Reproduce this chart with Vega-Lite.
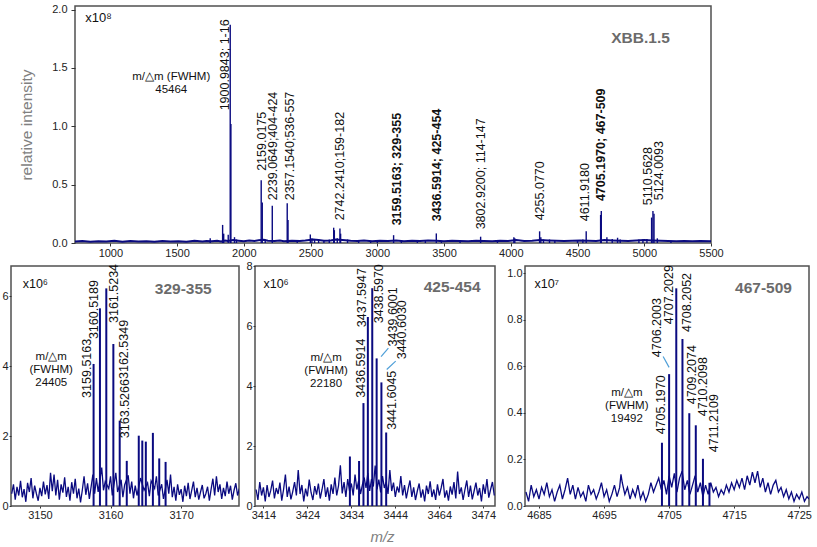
{
"$schema":"https://vega.github.io/schema/vega-lite/v6.json",
"padding":{"left":1,"top":2,"right":0,"bottom":0},
"background":"white",
"config":{
 "view":{"stroke":"#505050","strokeWidth":1.5},
 "font":"Liberation Sans",
 "axis":{"domain":false,"grid":false,"labelOverlap":false,"labelSeparation":0,"labelBound":false,"labelFlush":false,"labelFont":"Liberation Sans","labelFontSize":11,"labelColor":"#222222","tickColor":"#333333","tickSize":2,"labelPadding":1,"titleFont":"Liberation Sans","titleFontWeight":"normal","titleColor":"#808080"},
 "text":{"font":"Liberation Sans","color":"#111111"}
},
"datasets":{
 "top_base":[{"mz":735,"i":0.012},{"mz":790,"i":0.018},{"mz":850,"i":0.01},{"mz":910,"i":0.016},{"mz":970,"i":0.012},{"mz":1030,"i":0.02},{"mz":1090,"i":0.011},{"mz":1150,"i":0.017},{"mz":1210,"i":0.012},{"mz":1270,"i":0.015},{"mz":1330,"i":0.01},{"mz":1390,"i":0.018},{"mz":1450,"i":0.012},{"mz":1510,"i":0.016},{"mz":1570,"i":0.011},{"mz":1630,"i":0.02},{"mz":1690,"i":0.013},{"mz":1720,"i":0.018},{"mz":1760,"i":0.015},{"mz":1800,"i":0.02},{"mz":1830,"i":0.014},{"mz":1860,"i":0.022},{"mz":1880,"i":0.018},{"mz":1920,"i":0.025},{"mz":1960,"i":0.02},{"mz":2000,"i":0.016},{"mz":2040,"i":0.022},{"mz":2080,"i":0.018},{"mz":2110,"i":0.024},{"mz":2150,"i":0.028},{"mz":2180,"i":0.02},{"mz":2230,"i":0.018},{"mz":2270,"i":0.022},{"mz":2300,"i":0.016},{"mz":2360,"i":0.02},{"mz":2420,"i":0.018},{"mz":2460,"i":0.022},{"mz":2520,"i":0.03},{"mz":2560,"i":0.025},{"mz":2600,"i":0.02},{"mz":2650,"i":0.022},{"mz":2690,"i":0.03},{"mz":2740,"i":0.025},{"mz":2800,"i":0.02},{"mz":2850,"i":0.018},{"mz":2900,"i":0.022},{"mz":2960,"i":0.016},{"mz":3020,"i":0.02},{"mz":3080,"i":0.018},{"mz":3140,"i":0.022},{"mz":3200,"i":0.016},{"mz":3260,"i":0.02},{"mz":3320,"i":0.018},{"mz":3380,"i":0.022},{"mz":3440,"i":0.02},{"mz":3500,"i":0.016},{"mz":3560,"i":0.02},{"mz":3620,"i":0.018},{"mz":3680,"i":0.016},{"mz":3740,"i":0.02},{"mz":3800,"i":0.018},{"mz":3860,"i":0.016},{"mz":3920,"i":0.02},{"mz":3980,"i":0.018},{"mz":4040,"i":0.025},{"mz":4100,"i":0.018},{"mz":4160,"i":0.02},{"mz":4220,"i":0.025},{"mz":4280,"i":0.022},{"mz":4340,"i":0.02},{"mz":4400,"i":0.018},{"mz":4460,"i":0.02},{"mz":4520,"i":0.022},{"mz":4580,"i":0.02},{"mz":4640,"i":0.018},{"mz":4700,"i":0.025},{"mz":4760,"i":0.022},{"mz":4820,"i":0.02},{"mz":4880,"i":0.018},{"mz":4940,"i":0.022},{"mz":5000,"i":0.025},{"mz":5060,"i":0.022},{"mz":5120,"i":0.02},{"mz":5180,"i":0.018},{"mz":5240,"i":0.016},{"mz":5300,"i":0.018},{"mz":5360,"i":0.016},{"mz":5420,"i":0.018},{"mz":5500,"i":0.016}],
 "top_peaks":[{"mz":1748,"i":0.04},{"mz":1841,"i":0.155},{"mz":1849,"i":0.08},{"mz":1883,"i":0.07},{"mz":1898,"i":1.87},{"mz":1903,"i":1.02},{"mz":1930,"i":0.05},{"mz":1945,"i":0.03},{"mz":2130,"i":0.537},{"mz":2138,"i":0.347},{"mz":2160,"i":0.03},{"mz":2213,"i":0.318},{"mz":2325,"i":0.341},{"mz":2331,"i":0.197},{"mz":2400,"i":0.02},{"mz":2498,"i":0.073},{"mz":2510,"i":0.04},{"mz":2530,"i":0.03},{"mz":2560,"i":0.03},{"mz":2600,"i":0.025},{"mz":2640,"i":0.03},{"mz":2673,"i":0.131},{"mz":2678,"i":0.11},{"mz":2700,"i":0.04},{"mz":2720,"i":0.125},{"mz":2725,"i":0.08},{"mz":2777,"i":0.03},{"mz":2860,"i":0.02},{"mz":2950,"i":0.02},{"mz":3000,"i":0.025},{"mz":3122,"i":0.067},{"mz":3180,"i":0.025},{"mz":3300,"i":0.02},{"mz":3360,"i":0.02},{"mz":3442,"i":0.082},{"mz":3480,"i":0.02},{"mz":3620,"i":0.02},{"mz":3774,"i":0.054},{"mz":3900,"i":0.02},{"mz":4023,"i":0.05},{"mz":4030,"i":0.04},{"mz":4216,"i":0.1},{"mz":4225,"i":0.05},{"mz":4245,"i":0.03},{"mz":4290,"i":0.03},{"mz":4330,"i":0.025},{"mz":4500,"i":0.025},{"mz":4540,"i":0.03},{"mz":4565,"i":0.1},{"mz":4673,"i":0.24},{"mz":4678,"i":0.275},{"mz":4720,"i":0.05},{"mz":4760,"i":0.035},{"mz":4800,"i":0.045},{"mz":4820,"i":0.03},{"mz":4960,"i":0.03},{"mz":4990,"i":0.03},{"mz":5020,"i":0.035},{"mz":5055,"i":0.218},{"mz":5065,"i":0.275},{"mz":5073,"i":0.25},{"mz":5098,"i":0.04},{"mz":5200,"i":0.02}],
 "top_labels":[{"mz":1890,"i":1.136,"label":"1900.9843; 1-16","zoomed":false},{"mz":2164,"i":0.618,"label":"2159.0175","zoomed":false},{"mz":2252,"i":0.367,"label":"2239.0649;404-424","zoomed":false},{"mz":2377,"i":0.367,"label":"2357.1540;536-557","zoomed":false},{"mz":2751,"i":0.194,"label":"2742.2410;159-182","zoomed":false},{"mz":3175,"i":0.151,"label":"3159.5163; 329-355","zoomed":true},{"mz":3475,"i":0.186,"label":"3436.5914; 425-454","zoomed":true},{"mz":3808,"i":0.117,"label":"3802.9200; 114-147","zoomed":false},{"mz":4250,"i":0.194,"label":"4255.0770","zoomed":false},{"mz":4587,"i":0.186,"label":"4611.9180","zoomed":false},{"mz":4707,"i":0.359,"label":"4705.1970; 467-509","zoomed":true},{"mz":5056,"i":0.324,"label":"5110.5628","zoomed":false},{"mz":5141,"i":0.367,"label":"5124.0093","zoomed":false}],
 "p1_noise":[{"mz":3146.0,"v":0.35},{"mz":3146.25,"v":0.62},{"mz":3146.5,"v":0.18},{"mz":3146.75,"v":0.55},{"mz":3147.0,"v":0.3},{"mz":3147.25,"v":0.72},{"mz":3147.5,"v":0.25},{"mz":3147.75,"v":0.48},{"mz":3148.0,"v":0.12},{"mz":3148.25,"v":0.66},{"mz":3148.5,"v":0.4},{"mz":3148.75,"v":0.8},{"mz":3149.0,"v":0.22},{"mz":3149.25,"v":0.58},{"mz":3149.5,"v":0.35},{"mz":3149.75,"v":0.15},{"mz":3150.0,"v":0.52},{"mz":3150.25,"v":0.28},{"mz":3150.5,"v":0.7},{"mz":3150.75,"v":0.33},{"mz":3151.0,"v":0.6},{"mz":3151.25,"v":0.2},{"mz":3151.5,"v":0.95},{"mz":3151.75,"v":0.42},{"mz":3152.0,"v":0.9},{"mz":3152.25,"v":0.3},{"mz":3152.5,"v":0.75},{"mz":3152.75,"v":0.18},{"mz":3153.0,"v":0.62},{"mz":3153.25,"v":0.38},{"mz":3153.5,"v":0.82},{"mz":3153.75,"v":0.26},{"mz":3154.0,"v":0.55},{"mz":3154.25,"v":0.15},{"mz":3154.5,"v":0.68},{"mz":3154.75,"v":0.35},{"mz":3155.0,"v":0.78},{"mz":3155.25,"v":0.22},{"mz":3155.5,"v":0.5},{"mz":3155.75,"v":0.1},{"mz":3156.0,"v":0.45},{"mz":3156.25,"v":0.85},{"mz":3156.5,"v":0.32},{"mz":3156.75,"v":0.65},{"mz":3157.0,"v":0.2},{"mz":3157.25,"v":0.55},{"mz":3157.5,"v":0.9},{"mz":3157.75,"v":0.35},{"mz":3158.0,"v":0.8},{"mz":3158.25,"v":0.4},{"mz":3158.75,"v":1.1},{"mz":3159.0,"v":0.45},{"mz":3159.25,"v":0.7},{"mz":3159.75,"v":0.5},{"mz":3160.0,"v":0.85},{"mz":3160.25,"v":0.3},{"mz":3160.75,"v":0.95},{"mz":3161.0,"v":0.4},{"mz":3161.5,"v":0.75},{"mz":3161.75,"v":0.25},{"mz":3162.0,"v":0.6},{"mz":3162.5,"v":0.88},{"mz":3162.75,"v":0.35},{"mz":3163.0,"v":0.7},{"mz":3163.25,"v":0.22},{"mz":3163.5,"v":0.58},{"mz":3163.75,"v":0.3},{"mz":3164.25,"v":0.8},{"mz":3164.75,"v":0.45},{"mz":3165.25,"v":0.66},{"mz":3165.5,"v":0.28},{"mz":3165.75,"v":0.72},{"mz":3166.25,"v":0.5},{"mz":3166.5,"v":0.85},{"mz":3166.75,"v":0.3},{"mz":3167.25,"v":0.62},{"mz":3167.5,"v":0.2},{"mz":3168.0,"v":0.75},{"mz":3168.25,"v":0.35},{"mz":3168.5,"v":0.9},{"mz":3168.75,"v":0.25},{"mz":3169.0,"v":0.55},{"mz":3169.25,"v":0.15},{"mz":3169.5,"v":0.62},{"mz":3169.75,"v":0.32},{"mz":3170.0,"v":0.48},{"mz":3170.25,"v":0.12},{"mz":3170.5,"v":0.58},{"mz":3170.75,"v":0.28},{"mz":3171.0,"v":0.66},{"mz":3171.25,"v":0.2},{"mz":3171.5,"v":0.45},{"mz":3171.75,"v":0.7},{"mz":3172.0,"v":0.25},{"mz":3172.25,"v":0.52},{"mz":3172.5,"v":0.18},{"mz":3172.75,"v":0.4},{"mz":3173.0,"v":0.6},{"mz":3173.25,"v":0.22},{"mz":3173.5,"v":0.35},{"mz":3173.75,"v":0.55},{"mz":3174.0,"v":0.15},{"mz":3174.25,"v":0.48},{"mz":3174.5,"v":0.78},{"mz":3174.75,"v":0.3},{"mz":3175.0,"v":0.85},{"mz":3175.25,"v":0.4},{"mz":3175.5,"v":0.62},{"mz":3175.75,"v":0.2},{"mz":3176.0,"v":0.52},{"mz":3176.25,"v":0.28},{"mz":3176.5,"v":0.7},{"mz":3176.75,"v":0.35},{"mz":3177.0,"v":0.58},{"mz":3177.25,"v":0.18},{"mz":3177.5,"v":0.45},{"mz":3177.75,"v":0.65},{"mz":3178.0,"v":0.3},{"mz":3178.25,"v":0.5}],
 "p1_peaks":[{"mz":3157.6,"v":4.06},{"mz":3158.5,"v":5.65},{"mz":3159.4,"v":6.22},{"mz":3160.4,"v":4.63},{"mz":3161.3,"v":2.44},{"mz":3162.3,"v":1.29},{"mz":3164.0,"v":2.01},{"mz":3164.5,"v":1.87},{"mz":3165.0,"v":1.84},{"mz":3166.0,"v":2.09},{"mz":3166.9,"v":1.36},{"mz":3167.8,"v":1.26}],
 "p1_labels":[{"mz":3157.2,"v":3.09,"label":"3159.5163"},{"mz":3158.2,"v":4.77,"label":"3160.5189"},{"mz":3161.0,"v":5.23,"label":"3161.5234"},{"mz":3162.5,"v":3.63,"label":"3162.5349"},{"mz":3162.6,"v":1.94,"label":"3163.5266"}],
 "p2_noise":[{"mz":3412.0,"v":0.55},{"mz":3412.5,"v":0.2},{"mz":3413.0,"v":0.8},{"mz":3413.5,"v":0.35},{"mz":3414.0,"v":0.62},{"mz":3414.5,"v":0.15},{"mz":3415.0,"v":0.7},{"mz":3415.5,"v":0.3},{"mz":3416.0,"v":0.52},{"mz":3416.5,"v":0.85},{"mz":3417.0,"v":0.25},{"mz":3417.5,"v":0.6},{"mz":3418.0,"v":0.4},{"mz":3418.5,"v":0.78},{"mz":3419.0,"v":0.18},{"mz":3419.5,"v":0.55},{"mz":3420.0,"v":1.05},{"mz":3420.5,"v":0.3},{"mz":3421.0,"v":0.65},{"mz":3421.5,"v":0.22},{"mz":3422.0,"v":0.48},{"mz":3422.5,"v":0.8},{"mz":3423.0,"v":0.35},{"mz":3423.5,"v":1.2},{"mz":3424.0,"v":0.4},{"mz":3424.5,"v":0.7},{"mz":3425.0,"v":0.15},{"mz":3425.5,"v":0.58},{"mz":3426.0,"v":0.32},{"mz":3426.5,"v":0.88},{"mz":3427.0,"v":0.45},{"mz":3427.5,"v":0.2},{"mz":3428.0,"v":0.66},{"mz":3428.5,"v":0.38},{"mz":3429.0,"v":0.75},{"mz":3429.5,"v":0.25},{"mz":3430.0,"v":0.55},{"mz":3430.5,"v":0.9},{"mz":3431.0,"v":0.3},{"mz":3431.5,"v":0.62},{"mz":3432.0,"v":0.18},{"mz":3432.5,"v":0.72},{"mz":3433.0,"v":0.4},{"mz":3433.5,"v":0.95},{"mz":3434.0,"v":0.35},{"mz":3434.5,"v":0.68},{"mz":3435.0,"v":1.36},{"mz":3435.5,"v":0.42},{"mz":3436.0,"v":0.8},{"mz":3436.5,"v":0.3},{"mz":3437.0,"v":0.9},{"mz":3437.5,"v":0.5},{"mz":3438.0,"v":0.75},{"mz":3438.5,"v":0.35},{"mz":3439.0,"v":1.05},{"mz":3439.5,"v":0.55},{"mz":3440.0,"v":0.85},{"mz":3440.5,"v":0.4},{"mz":3441.0,"v":0.7},{"mz":3441.5,"v":0.95},{"mz":3442.0,"v":0.6},{"mz":3442.5,"v":1.1},{"mz":3443.0,"v":0.5},{"mz":3443.5,"v":0.9},{"mz":3444.0,"v":0.65},{"mz":3444.5,"v":1.35},{"mz":3445.0,"v":0.55},{"mz":3445.5,"v":0.88},{"mz":3446.0,"v":0.45},{"mz":3446.5,"v":1.0},{"mz":3447.0,"v":0.6},{"mz":3447.5,"v":0.8},{"mz":3448.0,"v":0.4},{"mz":3448.5,"v":1.2},{"mz":3449.0,"v":0.5},{"mz":3449.5,"v":0.78},{"mz":3450.0,"v":0.3},{"mz":3450.5,"v":0.65},{"mz":3451.0,"v":0.45},{"mz":3451.5,"v":1.0},{"mz":3452.0,"v":0.35},{"mz":3452.5,"v":0.7},{"mz":3453.0,"v":0.25},{"mz":3453.5,"v":0.58},{"mz":3454.0,"v":0.85},{"mz":3454.5,"v":0.3},{"mz":3455.0,"v":0.62},{"mz":3455.5,"v":0.2},{"mz":3456.0,"v":0.5},{"mz":3456.5,"v":0.75},{"mz":3457.0,"v":0.28},{"mz":3457.5,"v":0.55},{"mz":3458.0,"v":0.15},{"mz":3458.5,"v":0.68},{"mz":3459.0,"v":0.4},{"mz":3459.5,"v":0.82},{"mz":3460.0,"v":0.3},{"mz":3460.5,"v":0.55},{"mz":3461.0,"v":0.2},{"mz":3461.5,"v":0.72},{"mz":3462.0,"v":0.35},{"mz":3462.5,"v":0.6},{"mz":3463.0,"v":0.9},{"mz":3463.5,"v":0.28},{"mz":3464.0,"v":0.52},{"mz":3464.5,"v":0.18},{"mz":3465.0,"v":0.65},{"mz":3465.5,"v":0.38},{"mz":3466.0,"v":0.8},{"mz":3466.5,"v":0.25},{"mz":3467.0,"v":1.15},{"mz":3467.5,"v":0.4},{"mz":3468.0,"v":0.62},{"mz":3468.5,"v":0.2},{"mz":3469.0,"v":0.55},{"mz":3469.5,"v":0.85},{"mz":3470.0,"v":0.3},{"mz":3470.5,"v":0.68},{"mz":3471.0,"v":0.22},{"mz":3471.5,"v":0.5},{"mz":3472.0,"v":0.78},{"mz":3472.5,"v":0.35},{"mz":3473.0,"v":0.6},{"mz":3473.5,"v":0.15},{"mz":3474.0,"v":0.72},{"mz":3474.5,"v":0.4},{"mz":3475.0,"v":0.9},{"mz":3475.5,"v":0.28},{"mz":3476.0,"v":0.55},{"mz":3476.5,"v":0.8},{"mz":3477.0,"v":0.35}],
 "p2_peaks":[{"mz":3441.3,"v":3.43},{"mz":3442.5,"v":6.3},{"mz":3443.7,"v":7.26},{"mz":3444.9,"v":4.92},{"mz":3446.2,"v":4.12},{"mz":3447.5,"v":2.45},{"mz":3437.6,"v":1.65},{"mz":3440.1,"v":1.5}],
 "p2_labels":[{"mz":3441.6,"v":3.61,"label":"3436.5914"},{"mz":3442.06,"v":5.96,"label":"3437.5947"},{"mz":3446.6,"v":6.09,"label":"3438.5970"},{"mz":3450.5,"v":5.32,"label":"3439.6001"},{"mz":3453.0,"v":4.89,"label":"3440.6030"},{"mz":3450.2,"v":2.54,"label":"3441.6045"}],
 "p2_leaders":[{"mz":3446.1,"v":4.98,"mz2":3448.1,"v2":5.26},{"mz":3447.65,"v":4.55,"mz2":3450.1,"v2":4.83}],
 "p3_noise":[{"mz":4683.0,"v":0.06},{"mz":4683.4,"v":0.02},{"mz":4683.8,"v":0.09},{"mz":4684.2,"v":0.04},{"mz":4684.6,"v":0.07},{"mz":4685.0,"v":0.03},{"mz":4685.4,"v":0.08},{"mz":4685.8,"v":0.05},{"mz":4686.2,"v":0.1},{"mz":4686.6,"v":0.04},{"mz":4687.0,"v":0.07},{"mz":4687.4,"v":0.02},{"mz":4687.8,"v":0.06},{"mz":4688.2,"v":0.09},{"mz":4688.6,"v":0.03},{"mz":4689.0,"v":0.07},{"mz":4689.4,"v":0.12},{"mz":4689.8,"v":0.05},{"mz":4690.2,"v":0.09},{"mz":4690.6,"v":0.03},{"mz":4691.0,"v":0.08},{"mz":4691.4,"v":0.04},{"mz":4691.8,"v":0.06},{"mz":4692.2,"v":0.02},{"mz":4692.6,"v":0.09},{"mz":4693.0,"v":0.05},{"mz":4693.4,"v":0.07},{"mz":4693.8,"v":0.03},{"mz":4694.2,"v":0.06},{"mz":4694.6,"v":0.1},{"mz":4695.0,"v":0.04},{"mz":4695.4,"v":0.07},{"mz":4695.8,"v":0.02},{"mz":4696.2,"v":0.05},{"mz":4696.6,"v":0.09},{"mz":4697.0,"v":0.04},{"mz":4697.4,"v":0.08},{"mz":4697.6,"v":0.136},{"mz":4697.8,"v":0.1},{"mz":4698.2,"v":0.05},{"mz":4698.6,"v":0.08},{"mz":4699.0,"v":0.03},{"mz":4699.4,"v":0.07},{"mz":4699.8,"v":0.04},{"mz":4700.2,"v":0.09},{"mz":4700.6,"v":0.03},{"mz":4701.0,"v":0.06},{"mz":4701.4,"v":0.02},{"mz":4701.8,"v":0.05},{"mz":4702.2,"v":0.1},{"mz":4702.6,"v":0.06},{"mz":4703.0,"v":0.09},{"mz":4703.4,"v":0.12},{"mz":4703.8,"v":0.07},{"mz":4704.2,"v":0.11},{"mz":4704.6,"v":0.05},{"mz":4705.0,"v":0.13},{"mz":4705.4,"v":0.08},{"mz":4705.8,"v":0.14},{"mz":4706.2,"v":0.06},{"mz":4706.6,"v":0.12},{"mz":4707.0,"v":0.15},{"mz":4707.4,"v":0.07},{"mz":4707.8,"v":0.11},{"mz":4708.2,"v":0.05},{"mz":4708.6,"v":0.09},{"mz":4709.0,"v":0.13},{"mz":4709.4,"v":0.06},{"mz":4709.8,"v":0.1},{"mz":4710.2,"v":0.04},{"mz":4710.6,"v":0.09},{"mz":4711.0,"v":0.05},{"mz":4711.4,"v":0.1},{"mz":4711.8,"v":0.06},{"mz":4712.2,"v":0.08},{"mz":4712.6,"v":0.04},{"mz":4713.0,"v":0.07},{"mz":4713.4,"v":0.05},{"mz":4713.8,"v":0.09},{"mz":4714.2,"v":0.06},{"mz":4714.6,"v":0.1},{"mz":4715.0,"v":0.07},{"mz":4715.4,"v":0.11},{"mz":4715.8,"v":0.08},{"mz":4716.2,"v":0.12},{"mz":4716.6,"v":0.07},{"mz":4717.0,"v":0.13},{"mz":4717.4,"v":0.09},{"mz":4717.8,"v":0.146},{"mz":4718.2,"v":0.1},{"mz":4718.6,"v":0.15},{"mz":4719.0,"v":0.08},{"mz":4719.4,"v":0.12},{"mz":4719.8,"v":0.06},{"mz":4720.2,"v":0.1},{"mz":4720.6,"v":0.05},{"mz":4721.0,"v":0.09},{"mz":4721.4,"v":0.11},{"mz":4721.8,"v":0.06},{"mz":4722.2,"v":0.08},{"mz":4722.6,"v":0.04},{"mz":4723.0,"v":0.07},{"mz":4723.4,"v":0.03},{"mz":4723.8,"v":0.06},{"mz":4724.2,"v":0.02},{"mz":4724.6,"v":0.05},{"mz":4725.0,"v":0.03},{"mz":4725.4,"v":0.06},{"mz":4725.8,"v":0.02},{"mz":4726.2,"v":0.04},{"mz":4726.5,"v":0.03}],
 "p3_peaks":[{"mz":4703.9,"v":0.272},{"mz":4705.0,"v":0.567},{"mz":4706.1,"v":0.936},{"mz":4707.05,"v":0.718},{"mz":4708.1,"v":0.399},{"mz":4709.1,"v":0.347},{"mz":4710.2,"v":0.203},{"mz":4711.2,"v":0.1}],
 "p3_labels":[{"mz":4704.42,"v":0.308,"label":"4705.1970"},{"mz":4703.8,"v":0.64,"label":"4706.2003"},{"mz":4705.54,"v":0.782,"label":"4707.2029"},{"mz":4708.42,"v":0.748,"label":"4708.2052"},{"mz":4709.18,"v":0.4375,"label":"4709.2074"},{"mz":4710.8,"v":0.386,"label":"4710.2098"},{"mz":4712.46,"v":0.231,"label":"4711.2109"}],
 "p3_leaders":[{"mz":4704.08,"v":0.643,"mz2":4705.0,"v2":0.596}]
},
"spacing":0,
"vconcat":[
 {"spacing":3,"hconcat":[
  {"width":1,"height":10,"view":{"stroke":null},"data":{"values":[{"mz":0}]},"mark":{"type":"point","opacity":0},"encoding":{}},
  {"width":636,"height":237,
   "layer":[
    {"data":{"name":"top_base"},"mark":{"type":"line","color":"#0a0a80","strokeWidth":2,"clip":true},
     "encoding":{"x":{"field":"mz","type":"quantitative","scale":{"domain":[735,5500],"nice":false,"zero":false},"axis":{"title":null,"values":[1000,1500,2000,2500,3000,3500,4000,4500,5000,5500],"format":"d","tickSize":3,"labelPadding":1,"labelOverlap":false}},
                 "y":{"field":"i","type":"quantitative","scale":{"domain":[0,2.03],"nice":false},"axis":{"title":"relative intensity","titleFontSize":15.5,"titlePadding":17,"values":[0,0.5,1,1.5,2],"format":".1f","tickSize":4,"labelPadding":4,"labelOverlap":false}}}},
    {"data":{"name":"top_peaks"},"mark":{"type":"rule","color":"#0a0a80","strokeWidth":1.4},
     "encoding":{"x":{"field":"mz","type":"quantitative"},"y":{"field":"i","type":"quantitative"},"y2":{"datum":0}}},
    {"data":{"name":"top_labels"},"transform":[{"filter":"!datum.zoomed"}],"mark":{"type":"text","angle":270,"align":"left","baseline":"alphabetic","fontSize":12.5},
     "encoding":{"x":{"field":"mz","type":"quantitative"},"y":{"field":"i","type":"quantitative"},"text":{"field":"label","type":"nominal"}}},
    {"data":{"name":"top_labels"},"transform":[{"filter":"datum.zoomed"}],"mark":{"type":"text","angle":270,"align":"left","baseline":"alphabetic","fontSize":12.5,"fontWeight":"bold"},
     "encoding":{"x":{"field":"mz","type":"quantitative"},"y":{"field":"i","type":"quantitative"},"text":{"field":"label","type":"nominal"}}},
    {"data":{"values":[{"mz":812,"i":1.93,"note":"x10⁸"}]},"mark":{"type":"text","align":"left","baseline":"middle","fontSize":13},
     "encoding":{"x":{"field":"mz","type":"quantitative"},"y":{"field":"i","type":"quantitative"},"text":{"field":"note","type":"nominal"}}},
    {"data":{"values":[{"mz":1456,"i":1.473,"note":"m/△m  (FWHM)\n45464"}]},"mark":{"type":"text","align":"center","baseline":"top","fontSize":11.5,"lineBreak":"\n","lineHeight":13},
     "encoding":{"x":{"field":"mz","type":"quantitative"},"y":{"field":"i","type":"quantitative"},"text":{"field":"note","type":"nominal"}}},
    {"data":{"values":[{"mz":4972,"i":1.758,"note":"XBB.1.5"}]},"mark":{"type":"text","align":"center","baseline":"middle","fontSize":15.5,"fontWeight":"bold","color":"#6b6b6b"},
     "encoding":{"x":{"field":"mz","type":"quantitative"},"y":{"field":"i","type":"quantitative"},"text":{"field":"note","type":"nominal"}}}
   ]}
 ]},
 {"spacing":5,"hconcat":[
  {"width":228,"height":240,
   "layer":[
    {"data":{"name":"p1_noise"},"mark":{"type":"line","color":"#0a0a80","strokeWidth":1.3,"clip":true},
     "encoding":{"x":{"field":"mz","type":"quantitative","scale":{"domain":[3145.9,3178.2],"nice":false,"zero":false},"axis":{"title":null,"values":[3150,3160,3170],"format":"d","labelOverlap":false}},
                 "y":{"field":"v","type":"quantitative","scale":{"domain":[0,6.86],"nice":false},"axis":{"title":null,"values":[0,1,2,3,4,5,6],"labelExpr":"format(datum.value, 'd')","labelOverlap":false,"labelSeparation":0,"labelBound":false}}}},
    {"data":{"name":"p1_peaks"},"mark":{"type":"rule","color":"#0a0a80","strokeWidth":2},
     "encoding":{"x":{"field":"mz","type":"quantitative"},"y":{"field":"v","type":"quantitative"},"y2":{"datum":0}}},
    {"data":{"name":"p1_labels"},"mark":{"type":"text","angle":270,"align":"left","baseline":"alphabetic","fontSize":12.5},
     "encoding":{"x":{"field":"mz","type":"quantitative"},"y":{"field":"v","type":"quantitative"},"text":{"field":"label","type":"nominal"}}},
    {"data":{"values":[{"mz":3147.56,"v":6.34,"note":"x10⁶"}]},"mark":{"type":"text","align":"left","baseline":"middle","fontSize":12.5},
     "encoding":{"x":{"field":"mz","type":"quantitative"},"y":{"field":"v","type":"quantitative"},"text":{"field":"note","type":"nominal"}}},
    {"data":{"values":[{"mz":3151.6,"v":4.43,"note":"m/△m\n(FWHM)\n24405"}]},"mark":{"type":"text","align":"center","baseline":"top","fontSize":11.5,"lineBreak":"\n","lineHeight":13},
     "encoding":{"x":{"field":"mz","type":"quantitative"},"y":{"field":"v","type":"quantitative"},"text":{"field":"note","type":"nominal"}}},
    {"data":{"values":[{"mz":3170.3,"v":6.2,"note":"329-355"}]},"mark":{"type":"text","align":"center","baseline":"middle","fontSize":15.5,"fontWeight":"bold","color":"#6b6b6b"},
     "encoding":{"x":{"field":"mz","type":"quantitative"},"y":{"field":"v","type":"quantitative"},"text":{"field":"note","type":"nominal"}}}
   ]},
  {"spacing":8,"hconcat":[
   {"width":240,"height":240,
    "layer":[
     {"data":{"name":"p2_noise"},"mark":{"type":"line","color":"#0a0a80","strokeWidth":1.3,"clip":true},
      "encoding":{"x":{"field":"mz","type":"quantitative","scale":{"domain":[3411.7,3477.2],"nice":false,"zero":false},"axis":{"title":"m/z","titleFontStyle":"italic","titleFontSize":15,"titlePadding":9,"titleX":127,"labelOverlap":false,"values":[3414,3426,3438,3450,3462,3474],"labelExpr":"datum.value == 3426 ? '3424' : datum.value == 3438 ? '3434' : datum.value == 3450 ? '3444' : datum.value == 3462 ? '3464' : format(datum.value, 'd')"}},
                  "y":{"field":"v","type":"quantitative","scale":{"domain":[0,8],"nice":false},"axis":{"title":null,"values":[0,2,4,6,8],"format":"d","labelOverlap":false}}}},
     {"data":{"name":"p2_peaks"},"mark":{"type":"rule","color":"#0a0a80","strokeWidth":2},
      "encoding":{"x":{"field":"mz","type":"quantitative"},"y":{"field":"v","type":"quantitative"},"y2":{"datum":0}}},
     {"data":{"name":"p2_leaders"},"mark":{"type":"rule","color":"#4f9fd8","strokeWidth":1.2},
      "encoding":{"x":{"field":"mz","type":"quantitative"},"y":{"field":"v","type":"quantitative"},"x2":{"field":"mz2"},"y2":{"field":"v2"}}},
     {"data":{"name":"p2_labels"},"mark":{"type":"text","angle":270,"align":"left","baseline":"alphabetic","fontSize":12.5},
      "encoding":{"x":{"field":"mz","type":"quantitative"},"y":{"field":"v","type":"quantitative"},"text":{"field":"label","type":"nominal"}}},
     {"data":{"values":[{"mz":3414.0,"v":7.4,"note":"x10⁶"}]},"mark":{"type":"text","align":"left","baseline":"middle","fontSize":12.5},
      "encoding":{"x":{"field":"mz","type":"quantitative"},"y":{"field":"v","type":"quantitative"},"text":{"field":"note","type":"nominal"}}},
     {"data":{"values":[{"mz":3431.1,"v":5.12,"note":"m/△m\n(FWHM)\n22180"}]},"mark":{"type":"text","align":"center","baseline":"top","fontSize":11.5,"lineBreak":"\n","lineHeight":13},
      "encoding":{"x":{"field":"mz","type":"quantitative"},"y":{"field":"v","type":"quantitative"},"text":{"field":"note","type":"nominal"}}},
     {"data":{"values":[{"mz":3465.5,"v":7.29,"note":"425-454"}]},"mark":{"type":"text","align":"center","baseline":"middle","fontSize":15.5,"fontWeight":"bold","color":"#6b6b6b"},
      "encoding":{"x":{"field":"mz","type":"quantitative"},"y":{"field":"v","type":"quantitative"},"text":{"field":"note","type":"nominal"}}}
    ]},
   {"width":284,"height":240,
    "layer":[
     {"data":{"name":"p3_noise"},"mark":{"type":"line","color":"#0a0a80","strokeWidth":1.3,"clip":true},
      "encoding":{"x":{"field":"mz","type":"quantitative","scale":{"domain":[4682.85,4726.5],"nice":false,"zero":false},"axis":{"title":null,"values":[4685,4695,4705,4715,4725],"format":"d","labelOverlap":false}},
                  "y":{"field":"v","type":"quantitative","scale":{"domain":[0,1.032],"nice":false},"axis":{"title":null,"labelOverlap":false,"values":[0,0.1,0.2,0.3,0.4,0.5,0.6,0.7,0.8,0.9,1.0],"labelExpr":"round(datum.value*10) % 2 == 0 ? format(datum.value, '.1f') : '.'"}}}},
     {"data":{"name":"p3_peaks"},"mark":{"type":"rule","color":"#0a0a80","strokeWidth":2},
      "encoding":{"x":{"field":"mz","type":"quantitative"},"y":{"field":"v","type":"quantitative"},"y2":{"datum":0}}},
     {"data":{"name":"p3_leaders"},"mark":{"type":"rule","color":"#4f9fd8","strokeWidth":1.2},
      "encoding":{"x":{"field":"mz","type":"quantitative"},"y":{"field":"v","type":"quantitative"},"x2":{"field":"mz2"},"y2":{"field":"v2"}}},
     {"data":{"name":"p3_labels"},"mark":{"type":"text","angle":270,"align":"left","baseline":"alphabetic","fontSize":12.5},
      "encoding":{"x":{"field":"mz","type":"quantitative"},"y":{"field":"v","type":"quantitative"},"text":{"field":"label","type":"nominal"}}},
     {"data":{"values":[{"mz":4684.3,"v":0.955,"note":"x10⁷"}]},"mark":{"type":"text","align":"left","baseline":"middle","fontSize":12.5},
      "encoding":{"x":{"field":"mz","type":"quantitative"},"y":{"field":"v","type":"quantitative"},"text":{"field":"note","type":"nominal"}}},
     {"data":{"values":[{"mz":4698.5,"v":0.511,"note":"m/△m\n(FWHM)\n19492"}]},"mark":{"type":"text","align":"center","baseline":"top","fontSize":11.5,"lineBreak":"\n","lineHeight":13},
      "encoding":{"x":{"field":"mz","type":"quantitative"},"y":{"field":"v","type":"quantitative"},"text":{"field":"note","type":"nominal"}}},
     {"data":{"values":[{"mz":4719.5,"v":0.9375,"note":"467-509"}]},"mark":{"type":"text","align":"center","baseline":"middle","fontSize":15.5,"fontWeight":"bold","color":"#6b6b6b"},
      "encoding":{"x":{"field":"mz","type":"quantitative"},"y":{"field":"v","type":"quantitative"},"text":{"field":"note","type":"nominal"}}}
    ]}
  ]}
 ]}
]
}
